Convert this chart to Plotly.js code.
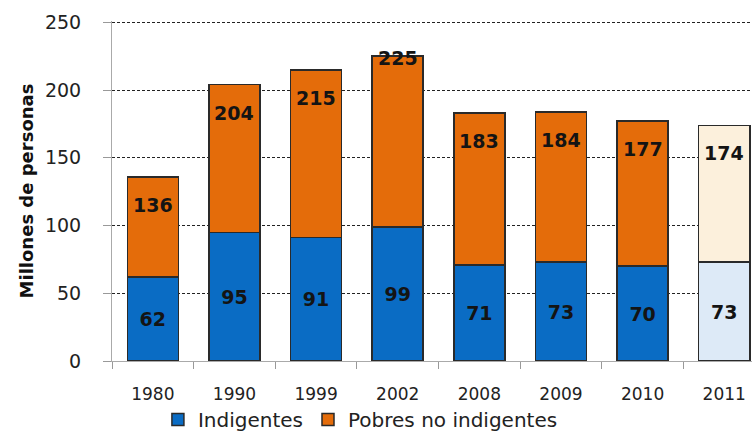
<!DOCTYPE html>
<html>
<head>
<meta charset="utf-8">
<script src="https://cdn.plot.ly/plotly-3.0.1.min.js"></script>
<style>
html,body{margin:0;padding:0;background:#fff;}
#chart{width:752px;height:439px;}
</style>
</head>
<body>
<div id="chart"></div>
<script>
// ---- data ----
const years = ["1980", "1990", "1999", "2002", "2008", "2009", "2010", "2011"];
const indigentes = [62, 95, 91, 99, 71, 73, 70, 73];
const totalPobres = [136, 204, 215, 225, 183, 184, 177, 174];
const seriesNames = ["Indigentes", "Pobres no indigentes"];
const yTicks = [0, 50, 100, 150, 200, 250];

// ---- styles ----
const FONT = "'DejaVu Sans', Verdana, sans-serif";
const blue = "#0A6CC4", orange = "#E46C0A";
const paleBlue = "#DDEAF7", paleOrange = "#FCF0DC";
const projectedIndex = 7;
const totalLabelShift = [-28, -28, -28, -2, -28, -28, -28, -28];

const pobresNoIndigentes = totalPobres.map((t, i) => t - indigentes[i]);
const blueColors = years.map((_, i) => i === projectedIndex ? paleBlue : blue);
const orangeColors = years.map((_, i) => i === projectedIndex ? paleOrange : orange);

const labelFont = {family: FONT, size: 19, color: "#141414", weight: 700};

const traces = [
  {
    type: "bar", name: seriesNames[0], x: years, y: indigentes,
    marker: {color: blueColors, line: {color: "#2a2a2a", width: 1.5}},
    text: indigentes.map(String), textposition: "inside", insidetextanchor: "middle",
    textfont: labelFont, textangle: 0, hoverinfo: "x+y"
  },
  {
    type: "bar", name: seriesNames[1], x: years, y: pobresNoIndigentes,
    marker: {color: orangeColors, line: {color: "#2a2a2a", width: 1.5}},
    hoverinfo: "x+y"
  }
];

const annotations = years.map((yr, i) => ({
  x: i, y: totalPobres[i], xref: "x", yref: "y",
  text: String(totalPobres[i]), showarrow: false,
  yshift: totalLabelShift[i], yanchor: "middle",
  font: labelFont
}));

const layout = {
  width: 752, height: 439,
  margin: {l: 112, r: 0, t: 21, b: 78},
  paper_bgcolor: "#fff", plot_bgcolor: "#fff",
  barmode: "stack", bargap: 0.375,
  showlegend: true,
  legend: {
    orientation: "h", xref: "container", x: 0.21, xanchor: "left",
    yref: "container", y: -0.012, yanchor: "bottom",
    font: {family: FONT, size: 20, color: "#222"},
    itemwidth: 30, traceorder: "normal", tracegroupgap: 0
  },
  xaxis: {
    type: "category", range: [-0.5, 7.34],
    tickson: "boundaries", ticks: "outside", ticklen: 7, tickcolor: "#999", tickwidth: 1,
    showline: true, linecolor: "#aaa", linewidth: 1,
    showgrid: false, zeroline: false,
    tickfont: {family: FONT, size: 17, color: "#222"},
    ticklabelstandoff: 18
  },
  yaxis: {
    range: [0, 251], tickvals: yTicks, ticktext: yTicks.map(String),
    ticks: "outside", ticklen: 8, tickcolor: "#999",
    showline: true, linecolor: "#aaa", linewidth: 1,
    showgrid: true, gridcolor: "#222", gridwidth: 1, griddash: "3px,2px",
    zeroline: false,
    tickfont: {family: FONT, size: 19, color: "#222"},
    ticklabelstandoff: 18,
    title: {text: "Millones de personas", standoff: 6,
            font: {family: FONT, size: 18, color: "#111", weight: 700}}
  },
  annotations: annotations
};

Plotly.newPlot("chart", traces, layout, {displayModeBar: false, staticPlot: true});
</script>
</body>
</html>
